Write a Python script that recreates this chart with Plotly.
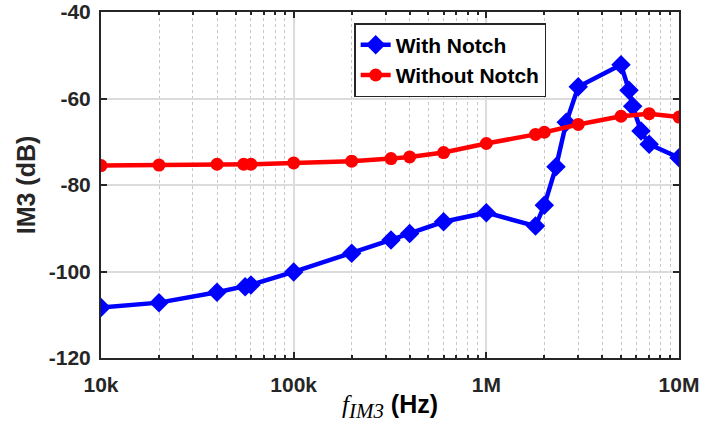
import plotly.graph_objects as go

freq_with = [1e4, 2e4, 4e4, 5.6e4, 6e4, 1e5, 2e5, 3.2e5, 4e5, 6e5, 1e6, 1.8e6, 2e6, 2.3e6, 2.6e6, 3e6, 5e6, 5.5e6, 5.75e6, 6.35e6, 7e6, 1e7]
im3_with = [-108.3, -107.2, -104.8, -103.5, -103.1, -100.1, -95.8, -92.7, -91.2, -88.5, -86.4, -89.5, -84.7, -75.8, -65.5, -57.3, -52.2, -58.1, -61.8, -67.5, -70.6, -73.7]

freq_without = [1e4, 2e4, 4e4, 5.5e4, 6e4, 1e5, 2e5, 3.2e5, 4e5, 6e5, 1e6, 1.8e6, 2e6, 3e6, 5e6, 7e6, 1e7]
im3_without = [-75.5, -75.4, -75.2, -75.2, -75.2, -74.9, -74.5, -73.9, -73.5, -72.5, -70.4, -68.3, -67.8, -66.0, -64.1, -63.5, -64.3]

x_tickvals = [1e4, 1e5, 1e6, 1e7]
x_ticktext = ["10k", "100k", "1M", "10M"]
x_minor = [m * 10 ** d for d in (4, 5, 6) for m in range(2, 10)]
y_tickvals = [-120, -100, -80, -60, -40]

FONT = "Liberation Sans, Arial, sans-serif"
TXT = "#262626"

fig = go.Figure()
fig.add_trace(go.Scatter(
    x=freq_with, y=im3_with, mode="lines+markers", name="<b>With Notch</b>",
    line=dict(color="#0000ff", width=4.5),
    marker=dict(symbol="diamond", size=15, color="#0000ff"),
))
fig.add_trace(go.Scatter(
    x=freq_without, y=im3_without, mode="lines+markers", name="<b>Without Notch</b>",
    line=dict(color="#ff0000", width=4.5),
    marker=dict(symbol="circle", size=13, color="#ff0000"),
))

fig.update_layout(
    width=704, height=423,
    margin=dict(l=101, r=25, t=12, b=65, autoexpand=False),
    paper_bgcolor="white", plot_bgcolor="white",
    font=dict(family=FONT, size=21, color=TXT),
    showlegend=True,
    legend=dict(
        x=0.438, y=0.968, xanchor="left", yanchor="top",
        bgcolor="white", bordercolor=TXT, borderwidth=1.5,
        font=dict(family=FONT, size=21, color="black"),
        tracegroupgap=0, itemwidth=30,
    ),
)

fig.update_xaxes(
    type="log", range=[4, 7], automargin=False,
    tickvals=x_tickvals, ticktext=[f"<b>{t}</b>" for t in x_ticktext],
    ticks="inside", ticklen=6, tickwidth=1.5, tickcolor=TXT,
    showline=True, linecolor=TXT, linewidth=2, mirror="ticks",
    showgrid=True, gridcolor="#dcdcdc", gridwidth=1.5,
    minor=dict(tickmode="array", tickvals=x_minor, ticks="inside", ticklen=3,
               tickcolor=TXT, showgrid=True, gridcolor="#c8c8c8",
               griddash="dot", gridwidth=1),
    tickfont=dict(size=21, color=TXT),
    ticklabelstandoff=7,
    title=dict(
        text="<span style=\"font-family:'Liberation Serif';font-weight:normal\"><i>f</i><sub><i><span style=\"font-size:21px\">IM3</span></i></sub></span><b> (Hz)</b>",
        font=dict(size=25, color="black"), standoff=2,
    ),
    zeroline=False,
)
fig.update_yaxes(
    range=[-120, -40], automargin=False, tickvals=y_tickvals,
    ticktext=[f"<b>{v}</b>" for v in y_tickvals],
    ticks="inside", ticklen=6, tickwidth=1.5, tickcolor=TXT,
    showline=True, linecolor=TXT, linewidth=2, mirror="ticks",
    showgrid=True, gridcolor="#dcdcdc", gridwidth=1.5,
    tickfont=dict(size=21, color=TXT),
    ticklabelstandoff=4,
    title=dict(text="<b>IM3 (dB)</b>", font=dict(size=25, color=TXT), standoff=6),
    zeroline=False,
)

fig.write_html("out.html")
